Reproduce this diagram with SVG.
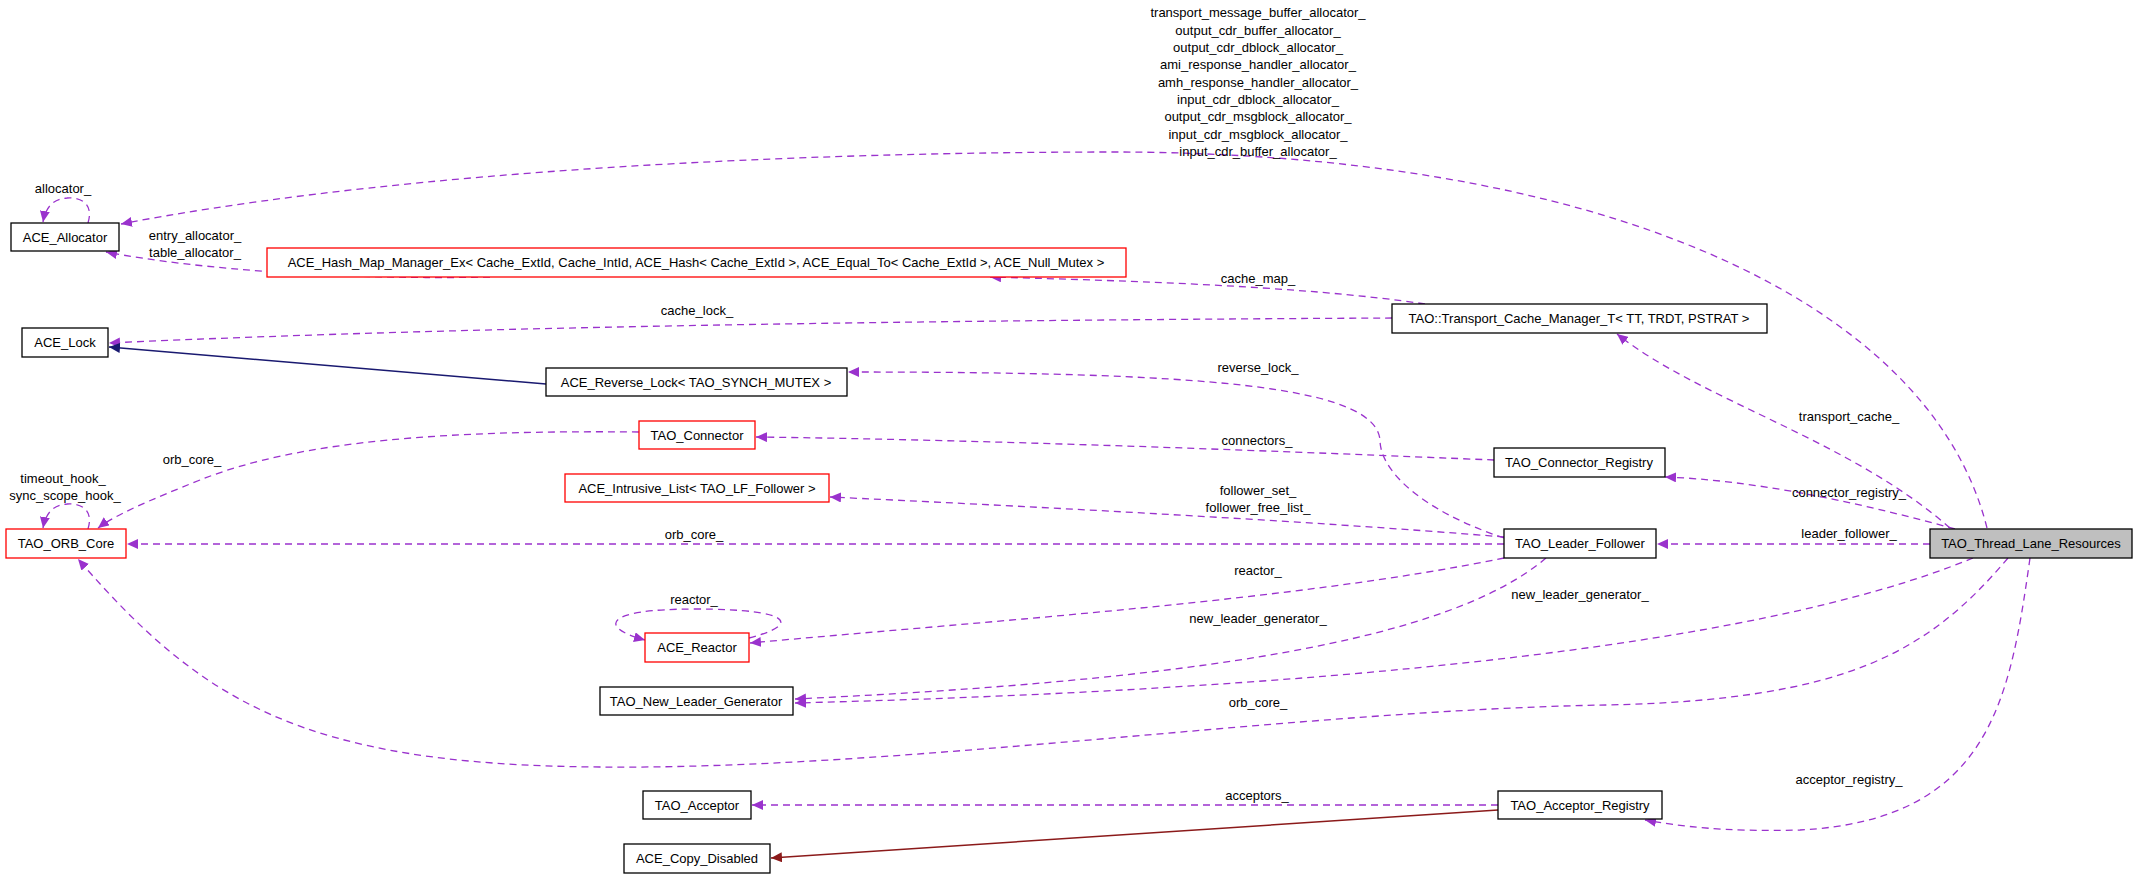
<svg xmlns="http://www.w3.org/2000/svg" width="2139" height="879" viewBox="0 0 2139 879">
<style>
text{font-family:"Liberation Sans",Arial,sans-serif;font-size:13px;fill:#000}
.n text{text-anchor:middle}
.lbl{text-anchor:middle}
rect{fill:#fff;stroke:#000;stroke-width:1.3}
.red rect{stroke:#ff0000}
.gray rect{fill:#bfbfbf}
.e{fill:none;stroke:#9a32cd;stroke-width:1.3;stroke-dasharray:7,5;marker-end:url(#ap)}
.nav{fill:none;stroke:#191970;stroke-width:1.5;marker-end:url(#an)}
.brn{fill:none;stroke:#8b1a1a;stroke-width:1.5;marker-end:url(#ab)}
</style>
<defs>
<marker id="ap" markerUnits="userSpaceOnUse" markerWidth="12" markerHeight="10" refX="11" refY="5" orient="auto"><path d="M0,0 L11,5 L0,10 z" fill="#9a32cd"/></marker>
<marker id="an" markerUnits="userSpaceOnUse" markerWidth="12" markerHeight="10" refX="11" refY="5" orient="auto"><path d="M0,0 L11,5 L0,10 z" fill="#191970"/></marker>
<marker id="ab" markerUnits="userSpaceOnUse" markerWidth="12" markerHeight="10" refX="11" refY="5" orient="auto"><path d="M0,0 L11,5 L0,10 z" fill="#8b1a1a"/></marker>
</defs>
<g id="connectors">
<path class="e" d="M1987,528 C1930,300 1600,150 1100,152 C700,153 350,180 121,224"/>
<path class="e" d="M88,223 C95,200 75,197 67,198 C55,199 46,205 43,222"/>
<path class="e" d="M490,277 C350,280 200,270 106,252"/>
<path class="e" d="M1425,304 C1300,285 1100,280 990,277"/>
<path class="e" d="M1392,318 C1000,320 500,325 109,343"/>
<path class="nav" d="M546,384 L109,347"/>
<path class="e" d="M1950,528 C1850,440 1700,400 1617,334"/>
<path class="e" d="M1504,538 C1420,510 1380,470 1380,440 C1375,385 1200,372 848,372"/>
<path class="e" d="M1494,460 C1300,452 1000,440 756,437"/>
<path class="e" d="M639,432 C450,430 300,440 200,480 C150,500 115,515 98,528"/>
<path class="e" d="M88,529 C95,506 75,503 67,504 C55,505 46,511 43,528"/>
<path class="e" d="M1504,537 C1300,520 1000,505 830,497"/>
<path class="e" d="M1504,544 L127,544"/>
<path class="e" d="M1930,544 L1657,544"/>
<path class="e" d="M1955,529 C1850,500 1750,480 1665,477"/>
<path class="e" d="M1504,558 C1300,600 1000,620 750,643"/>
<path class="e" d="M749,638 C800,625 795,609 695,609 C600,609 600,628 645,640"/>
<path class="e" d="M1546,558 C1450,640 1200,680 795,699"/>
<path class="e" d="M1973,558 C1750,650 1300,690 795,703"/>
<path class="e" d="M2008,558 C1930,650 1850,700 1606,705 C1300,710 900,770 600,767 C300,765 200,700 78,559"/>
<path class="e" d="M2030,558 C2010,700 1990,820 1800,830 C1720,832 1680,826 1645,820"/>
<path class="e" d="M1498,805 L752,805"/>
<path class="brn" d="M1498,810 L771,858"/>
</g>
<g id="labels" class="lbl">
<text x="1258" y="17">transport_message_buffer_allocator_</text>
<text x="1258" y="35">output_cdr_buffer_allocator_</text>
<text x="1258" y="52">output_cdr_dblock_allocator_</text>
<text x="1258" y="69">ami_response_handler_allocator_</text>
<text x="1258" y="87">amh_response_handler_allocator_</text>
<text x="1258" y="104">input_cdr_dblock_allocator_</text>
<text x="1258" y="121">output_cdr_msgblock_allocator_</text>
<text x="1258" y="139">input_cdr_msgblock_allocator_</text>
<text x="1258" y="156">input_cdr_buffer_allocator_</text>
<text x="63" y="193">allocator_</text>
<text x="195" y="240">entry_allocator_</text>
<text x="195" y="257">table_allocator_</text>
<text x="1258" y="283">cache_map_</text>
<text x="697" y="315">cache_lock_</text>
<text x="1258" y="372">reverse_lock_</text>
<text x="1257" y="445">connectors_</text>
<text x="192" y="464">orb_core_</text>
<text x="63" y="483">timeout_hook_</text>
<text x="65" y="500">sync_scope_hook_</text>
<text x="1258" y="495">follower_set_</text>
<text x="1258" y="512">follower_free_list_</text>
<text x="694" y="539">orb_core_</text>
<text x="1849" y="538">leader_follower_</text>
<text x="1849" y="497">connector_registry_</text>
<text x="1849" y="421">transport_cache_</text>
<text x="694" y="604">reactor_</text>
<text x="1258" y="575">reactor_</text>
<text x="1258" y="623">new_leader_generator_</text>
<text x="1580" y="599">new_leader_generator_</text>
<text x="1258" y="707">orb_core_</text>
<text x="1257" y="800">acceptors_</text>
<text x="1849" y="784">acceptor_registry_</text>
</g>
<g class="n">
<g id="ACE_Allocator"><rect x="11" y="223" width="108" height="28"/><text x="65" y="242">ACE_Allocator</text></g>
<g id="ACE_Hash_Map_Manager_Ex" class="red"><rect x="267" y="248" width="859" height="29"/><text x="696" y="267">ACE_Hash_Map_Manager_Ex&lt; Cache_ExtId, Cache_IntId, ACE_Hash&lt; Cache_ExtId &gt;, ACE_Equal_To&lt; Cache_ExtId &gt;, ACE_Null_Mutex &gt;</text></g>
<g id="ACE_Lock"><rect x="22" y="328" width="86" height="29"/><text x="65" y="347">ACE_Lock</text></g>
<g id="ACE_Reverse_Lock"><rect x="546" y="368" width="301" height="28"/><text x="696" y="387">ACE_Reverse_Lock&lt; TAO_SYNCH_MUTEX &gt;</text></g>
<g id="TAO_Connector" class="red"><rect x="639" y="421" width="116" height="28"/><text x="697" y="440">TAO_Connector</text></g>
<g id="ACE_Intrusive_List" class="red"><rect x="565" y="474" width="264" height="28"/><text x="697" y="493">ACE_Intrusive_List&lt; TAO_LF_Follower &gt;</text></g>
<g id="TAO_ORB_Core" class="red"><rect x="6" y="529" width="120" height="29"/><text x="66" y="548">TAO_ORB_Core</text></g>
<g id="ACE_Reactor" class="red"><rect x="645" y="633" width="104" height="29"/><text x="697" y="652">ACE_Reactor</text></g>
<g id="TAO_New_Leader_Generator"><rect x="600" y="687" width="193" height="28"/><text x="696" y="706">TAO_New_Leader_Generator</text></g>
<g id="TAO_Acceptor"><rect x="643" y="791" width="108" height="28"/><text x="697" y="810">TAO_Acceptor</text></g>
<g id="ACE_Copy_Disabled"><rect x="624" y="844" width="146" height="29"/><text x="697" y="863">ACE_Copy_Disabled</text></g>
<g id="TAO_Transport_Cache_Manager_T"><rect x="1392" y="304" width="375" height="29"/><text x="1579" y="323">TAO::Transport_Cache_Manager_T&lt; TT, TRDT, PSTRAT &gt;</text></g>
<g id="TAO_Connector_Registry"><rect x="1494" y="448" width="171" height="29"/><text x="1579" y="467">TAO_Connector_Registry</text></g>
<g id="TAO_Leader_Follower"><rect x="1504" y="529" width="152" height="29"/><text x="1580" y="548">TAO_Leader_Follower</text></g>
<g id="TAO_Thread_Lane_Resources" class="gray"><rect x="1930" y="529" width="202" height="29"/><text x="2031" y="548">TAO_Thread_Lane_Resources</text></g>
<g id="TAO_Acceptor_Registry"><rect x="1498" y="791" width="164" height="28"/><text x="1580" y="810">TAO_Acceptor_Registry</text></g>
</g>
</svg>
